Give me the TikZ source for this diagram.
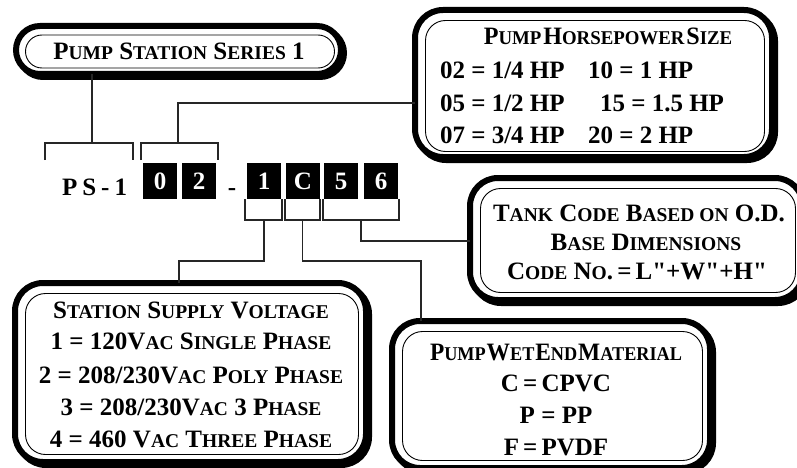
\documentclass[tikz,border=0pt]{standalone}
\usepackage{graphicx}
\usepackage{fontspec}
\setmainfont{Liberation Serif}
\newfontfamily\qfont{Liberation Serif}[Ligatures=TeXOff]
\usetikzlibrary{shapes.misc}
\newcommand\sca[1]{{\fontsize{19.5}{20}\selectfont #1}}
\newcommand\dq{{\qfont\bfseries"}}
\begin{document}
\begin{tikzpicture}[x=1pt,y=-1pt,
  every node/.style={font=\bfseries\fontsize{25}{28}\selectfont, inner sep=0pt, outer sep=0pt},
  boxshadow/.style={draw, line width=6pt, rounded corners=28pt, xshift=3pt, yshift=-3pt},
  boxouter/.style={draw, line width=6pt, fill=white, rounded corners=28pt},
  boxinner/.style={draw, line width=0.9pt, rounded corners=20pt},
  psshadow/.style={rounded rectangle, draw, line width=6pt, xshift=3pt, yshift=-3pt},
  psouter/.style={rounded rectangle, draw, line width=6pt, fill=white},
  psinner/.style={rounded rectangle, draw, line width=0.9pt},
  digitbox/.style={fill=black, text=white, minimum width=34pt, minimum height=36pt},
  txt/.style={anchor=base},
  txtw/.style={anchor=base west},
  link/.style={line width=1.2pt, black!85},
]
\useasboundingbox (0,0) rectangle (797,468);
\clip (0,0) rectangle (797,468);

% ---------- Pump station series box
\node[psshadow, minimum width=325pt, minimum height=48pt] (pssh) at (178.5,50) {};
\node[psouter, minimum width=325pt, minimum height=48pt] (ps) at (178.5,50) {};
\node[psinner, minimum width=309pt, minimum height=33pt] (psin) at (180,51.5) {};
\node[txt] (pst) at (179,60) {P\sca{UMP} S\sca{TATION} S\sca{ERIES} 1};

% ---------- Horsepower box
\node[boxshadow, minimum width=357pt, minimum height=147pt] (hpsh) at (593.5,83.5) {};
\node[boxouter, minimum width=357pt, minimum height=147pt] (hp) at (593.5,83.5) {};
\node[boxinner, minimum width=339pt, minimum height=131pt] (hpin) at (595,86) {};
\node[txt] (hph) at (608,45) {\scalebox{0.965}[1]{P\sca{UMP}\hspace{2pt}H\sca{ORSEPOWER}\hspace{2pt}S\sca{IZE}}};
\node[txtw] (hpa) at (440,79) {02 = 1/4 HP};
\node[txtw] (hpb) at (440,111) {05 = 1/2 HP};
\node[txtw] (hpc) at (440,143) {07 = 3/4 HP};
\node[txtw] (hpd) at (588,79) {10 = 1 HP};
\node[txtw] (hpe) at (600,111) {15 = 1.5 HP};
\node[txtw] (hpf) at (588,143) {20 = 2 HP};

% ---------- Tank box
\node[boxshadow, minimum width=333pt, minimum height=122pt] (tksh) at (636.5,239) {};
\node[boxouter, minimum width=333pt, minimum height=122pt] (tk) at (636.5,239) {};
\node[boxinner, minimum width=315pt, minimum height=104pt] (tkin) at (638,240.5) {};
\node[txt] (tka) at (639,221) {T\sca{ANK} C\sca{ODE} B\sca{ASED ON} O.D.};
\node[txt] (tkb) at (646,250) {B\sca{ASE} D\sca{IMENSIONS}};
\node[txt] (tkc) at (637,279) {C\sca{ODE} N\sca{O}.\,=\,L\dq+W\dq+H\dq};

% ---------- Voltage box
\node[boxshadow, minimum width=351pt, minimum height=179pt] (vosh) at (190.5,372.5) {};
\node[boxouter, minimum width=351pt, minimum height=179pt] (vo) at (190.5,372.5) {};
\node[boxinner, minimum width=333pt, minimum height=161pt] (voin) at (192,374) {};
\node[txt] (voa) at (191,318) {S\sca{TATION} S\sca{UPPLY} V\sca{OLTAGE}};
\node[txt] (vob) at (191,349) {1 = 120V\sca{AC} S\sca{INGLE} P\sca{HASE}};
\node[txt] (voc) at (191,383) {2 = 208/230V\sca{AC} P\sca{OLY} P\sca{HASE}};
\node[txt] (vod) at (191,415) {3 = 208/230V\sca{AC} 3 P\sca{HASE}};
\node[txt] (voe) at (191,447) {4 = 460 V\sca{AC} T\sca{HREE} P\sca{HASE}};

% ---------- Wet end box
\node[boxshadow, minimum width=318pt, minimum height=147pt] (wesh) at (551,394.5) {};
\node[boxouter, minimum width=318pt, minimum height=147pt] (we) at (551,394.5) {};
\node[boxinner, minimum width=300pt, minimum height=129pt] (wein) at (552.5,396) {};
\node[txt] (wea) at (556,360) {\scalebox{0.935}[1]{P\sca{UMP}\hspace{1pt}W\sca{ET}\hspace{1pt}E\sca{ND}\hspace{1pt}M\sca{ATERIAL}}};
\node[txt] (web) at (556,391) {C\,=\,CPVC};
\node[txt] (wec) at (556,423) {P = PP};
\node[txt] (wed) at (556,455) {F\,=\,PVDF};

% ---------- Code
\node[txtw] (code) at (62,195) {P\hspace{5pt}S\hspace{5pt}-\hspace{5pt}1};
\node[digitbox] (d0) at (160,181) {0};
\node[digitbox] (d2) at (199,181) {2};
\node[txt] (dash) at (232,195) {-};
\node[digitbox] (d1) at (264,181) {1};
\node[digitbox] (dC) at (303,181) {C};
\node[digitbox] (d5) at (341,181) {5};
\node[digitbox] (d6) at (381,181) {6};

% ---------- Brackets
\draw[link] (45,160) -- (45,143) -- (133,143) -- (133,160);
\draw[link] (141,160) -- (141,143) -- (218,143) -- (218,160);
\draw[link] (245,199) -- (245,220) -- (282,220) -- (282,199);
\draw[link] (285,199) -- (285,220) -- (320,220) -- (320,199);
\draw[link] (323,199) -- (323,220) -- (399,220) -- (399,199);

\coordinate (b1) at (92,143);
\coordinate (b2) at (178,143);
\coordinate (b3) at (264,220);
\coordinate (b4) at (302.5,220);
\coordinate (b5) at (361,220);
\coordinate (hpjoin) at (415,103);
\coordinate (vojoin) at (179,283);
\coordinate (wejoin) at (421,321);
\coordinate (tkjoin) at (470,241);

% ---------- Connectors
\draw[link] (ps.south -| b1) -- (b1);
\draw[link] (b2) |- (hpjoin);
\draw[link] (b3) -- ++(0,41) -| (vojoin);
\draw[link] (b4) -- ++(0,41) -| (wejoin);
\draw[link] (b5) |- (tkjoin);
\end{tikzpicture}
\end{document}
